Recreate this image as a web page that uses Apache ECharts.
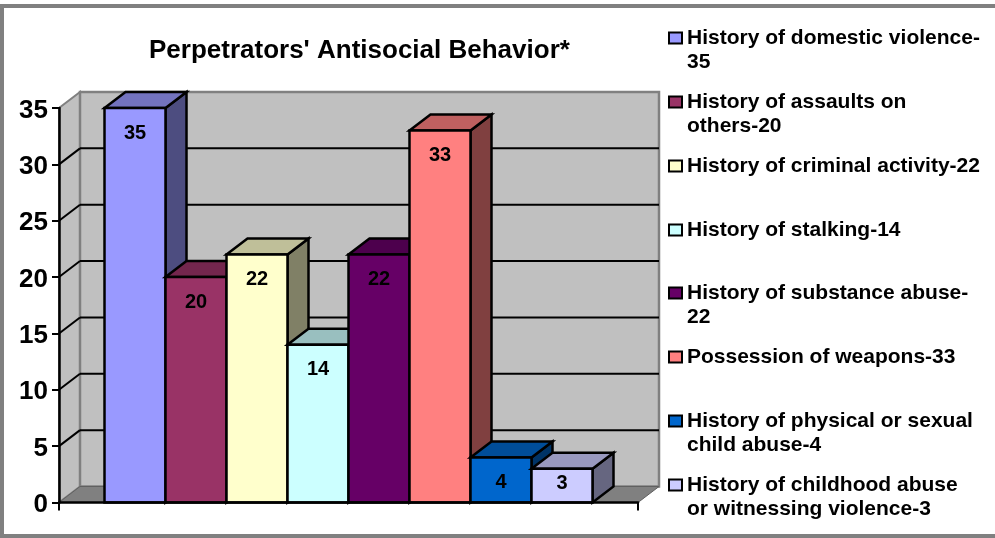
<!DOCTYPE html>
<html>
<head>
<meta charset="utf-8">
<style>html,body{margin:0;padding:0;background:#fff}#chart{width:995px;height:538px}</style>
<script src="https://cdn.jsdelivr.net/npm/echarts@6/dist/echarts.min.js"></script>
</head>
<body>
<div id="chart"></div>
<script>
var legendNames=["History of domestic violence-\n35","History of assaults on\nothers-20","History of criminal activity-22","History of stalking-14","History of substance abuse-\n22","Possession of weapons-33","History of physical or sexual\nchild abuse-4","History of childhood abuse\nor witnessing violence-3"]
var values=[35,20,22,14,22,33,4,3]
var colors=["#9999FF","#993366","#FFFFCC","#CCFFFF","#660066","#FF8080","#0066CC","#CCCCFF"]
var yTicks=[0,5,10,15,20,25,30,35]
var legendCenters=[38,102,166,230,293,357,421,485]

var FONT="Liberation Sans"
var DX=21,DY=-16 // depth of the fake 3d box
var BAR_W=61
var LEG_LINE=24

function shade(hex,k){
	var n=parseInt(hex.slice(1),16)
	return "rgb("+Math.round((n>>16&255)*k)+","+Math.round((n>>8&255)*k)+","+Math.round((n&255)*k)+")"
}
function poly(pts,fill,stroke,w){
	return {type:"polygon",shape:{points:pts},style:{fill:fill,stroke:stroke,lineWidth:w,lineJoin:"miter"}}
}
function line(x1,y1,x2,y2,color,w){
	return {type:"line",shape:{x1:x1,y1:y1,x2:x2,y2:y2},style:{stroke:color,lineWidth:w}}
}

// side wall, back wall, floor and the gridlines
function renderWalls(params,api){
	var c=params.coordSys
	var x0=c.x,x1=c.x+c.width,top=c.y,bot=c.y+c.height
	var kids=[
		poly([[x0,top],[x0+DX,top+DY],[x0+DX,bot+DY],[x0,bot]],"#C0C0C0","#808080",2),
		poly([[x0+DX,top+DY],[x1+DX,top+DY],[x1+DX,bot+DY],[x0+DX,bot+DY]],"#C0C0C0","#808080",2.5),
		poly([[x0,bot],[x0+DX,bot+DY],[x1+DX,bot+DY],[x1,bot]],"#808080","#606060",1)
	]
	for(var i=0;i<yTicks.length;i++){
		var v=yTicks[i]
		if(v==0||v==35)continue
		var y=api.coord([0,v])[1]
		kids.push(line(x0,y,x0+DX,y+DY,"#000",2))
		kids.push(line(x0+DX,y+DY,x1+DX,y+DY,"#000",2))
	}
	return {type:"group",children:kids}
}

function renderBar(idx){
	return function(params,api){
		var c=params.coordSys
		var v=api.value(1)
		var left=c.x+c.width/2+(idx-values.length/2)*BAR_W
		var right=left+BAR_W
		var top=api.coord([0,v])[1]
		var bot=api.coord([0,0])[1]
		var col=colors[idx]
		return {type:"group",children:[
			poly([[right,top],[right+DX,top+DY],[right+DX,bot+DY],[right,bot]],shade(col,0.5),"#000",2.5),
			poly([[left,top],[left+DX,top+DY],[right+DX,top+DY],[right,top]],shade(col,0.75),"#000",2.5),
			poly([[left,top],[right,top],[right,bot],[left,bot]],col,"#000",2.5),
			{type:"text",style:{text:String(v),x:(left+right)/2,y:Math.min(top+25,bot-19),align:"center",verticalAlign:"middle",
				font:"bold 20px '"+FONT+"'",fill:"#000"}}
		]}
	}
}

var series=[{
	type:"custom",
	name:"walls",
	silent:true,
	data:[[0,0]],
	encode:{x:0,y:1},
	z:1,
	renderItem:renderWalls
}]
for(var i=0;i<values.length;i++){
	series.push({
		type:"custom",
		name:legendNames[i],
		data:[[0,values[i]]],
		encode:{x:0,y:1},
		z:2,
		itemStyle:{color:colors[i]},
		renderItem:renderBar(i)
	})
}

// one legend per entry, the original keeps a fixed pitch and the marker sits on the first line
// a leading blank line puts line one in the middle of a two line label, level with the marker
var legends=legendNames.map(function(name,i){
	var two=name.indexOf("\n")>=0
	var h=two?LEG_LINE*3:LEG_LINE
	return {
		data:[name],
		left:668,
		top:legendCenters[i]-h/2,
		padding:0,
		orient:"vertical",
		selectedMode:false,
		icon:"rect",
		itemWidth:13,
		itemHeight:11,
		itemGap:0,
		itemStyle:{borderColor:"#000",borderWidth:2},
		formatter:function(n){return n.indexOf("\n")>=0?"\n"+n:n},
		textStyle:{fontFamily:FONT,fontWeight:"bold",fontSize:21,color:"#000",lineHeight:LEG_LINE}
	}
})

var mychart=echarts.init(document.getElementById("chart"))
var option={
	backgroundColor:"#fff",
	animation:false,
	title:{
		text:"Perpetrators' Antisocial Behavior*",
		left:149,
		top:38,
		padding:0,
		textStyle:{fontFamily:FONT,fontWeight:"bold",fontSize:26,color:"#000"}
	},
	legend:legends,
	grid:{left:59,right:357,top:108,bottom:35.5},
	xAxis:{
		type:"category",
		data:["all"],
		z:10,
		axisLine:{lineStyle:{color:"#000",width:2.5}},
		axisTick:{show:true,length:8,lineStyle:{color:"#000",width:2}},
		axisLabel:{show:false},
		splitLine:{show:false}
	},
	yAxis:{
		type:"value",
		min:0,
		max:35,
		interval:5,
		z:10,
		axisLine:{show:true,lineStyle:{color:"#000",width:2.5}},
		axisTick:{show:true,length:7,lineStyle:{color:"#000",width:2}},
		axisLabel:{
			margin:11,
			formatter:"{t|{value}}",
			rich:{t:{fontFamily:FONT,fontWeight:"bold",fontSize:26,color:"#000",padding:[5,0,0,0]}}
		},
		splitLine:{show:false}
	},
	graphic:[{
		type:"rect",
		silent:true,
		z:100,
		shape:{x:2,y:6,width:1000,height:530},
		style:{fill:"none",stroke:"#808080",lineWidth:4}
	}],
	series:series
}
mychart.setOption(option)
</script>
</body>
</html>
